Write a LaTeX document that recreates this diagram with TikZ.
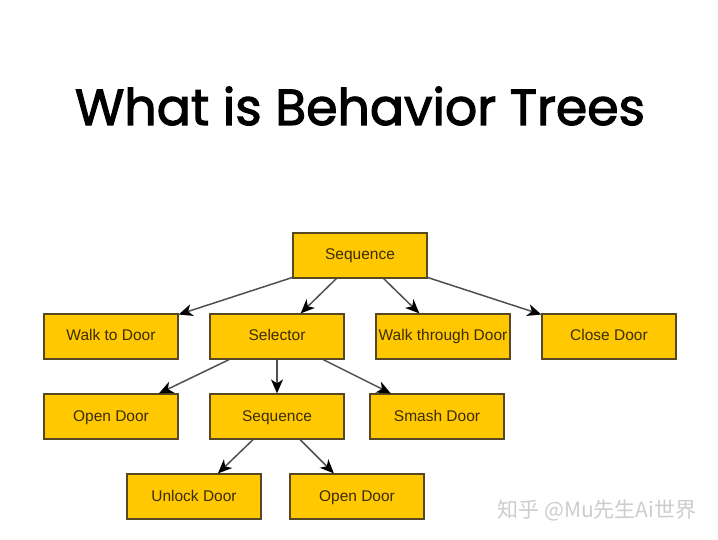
\documentclass[tikz,border=0pt]{standalone}
\usepackage{fontspec}
\setmainfont{Liberation Sans}
\newfontfamily\titlefont[FakeBold=2.2]{Poppins}
\newfontfamily\cjkfont{Noto Sans CJK SC}
\usetikzlibrary{arrows.meta}
\definecolor{boxfill}{RGB}{255,200,0}
\definecolor{boxline}{RGB}{85,72,35}
\definecolor{boxtext}{RGB}{60,45,5}
\definecolor{edgecol}{RGB}{80,80,80}
\definecolor{wmark}{RGB}{205,205,205}
\begin{document}
\begin{tikzpicture}[x=1pt,y=-1pt,
  bt/.style={draw=boxline,fill=boxfill,line width=1.2pt,minimum width=134pt,minimum height=45pt,inner sep=0pt,text height=12pt,text depth=3pt,text=boxtext,font=\fontsize{15.5}{18}\selectfont},
  edge/.style={draw=edgecol,line width=1.5pt,-{Stealth[length=14pt,width=12pt,inset=4pt,black]}}]
\useasboundingbox[fill=white] (0,0) rectangle (718,540);
\node[font=\titlefont\fontsize{50}{60}\selectfont,anchor=base] (title) at (360,125) {\resizebox{570pt}{!}{What is Behavior Trees}};
\node[bt] (seq) at (360,255.5) {Sequence};
\node[bt] (walk) at (111,336.5) {Walk to Door};
\node[bt] (sel) at (277,336.5) {Selector};
\node[bt] (through) at (443,336.5) {Walk through Door};
\node[bt] (close) at (609,336.5) {Close Door};
\node[bt] (open1) at (111,416.5) {Open Door};
\node[bt] (seq2) at (277,416.5) {Sequence};
\node[bt] (smash) at (437,416.5) {Smash Door};
\node[bt] (unlock) at (194,496.5) {Unlock Door};
\node[bt] (open2) at (357,496.5) {Open Door};
\draw[edge] (seq) -- (walk);
\draw[edge] (seq) -- (sel);
\draw[edge] (seq) -- (through);
\draw[edge] (seq) -- (close);
\draw[edge] (sel) -- (open1);
\draw[edge] (sel) -- (seq2);
\draw[edge] (sel) -- (smash);
\draw[edge] (seq2) -- (unlock);
\draw[edge] (seq2) -- (open2);
\node[text=wmark,font=\cjkfont\fontsize{21}{24}\selectfont] (wm) at (597,510) {知乎 @Mu先生Ai世界};
\end{tikzpicture}
\end{document}
